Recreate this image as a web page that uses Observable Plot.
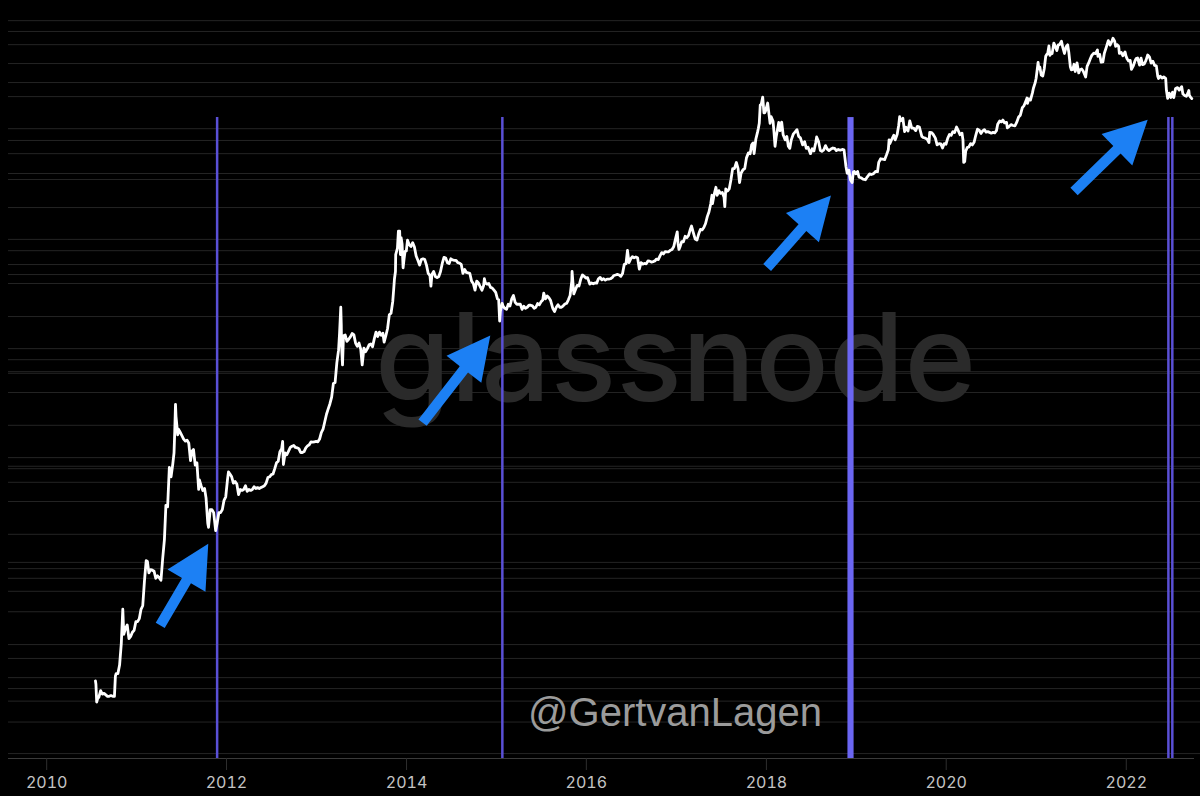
<!DOCTYPE html>
<html><head><meta charset="utf-8">
<script src="https://cdn.jsdelivr.net/npm/d3@7"></script>
<script src="https://cdn.jsdelivr.net/npm/@observablehq/plot@0.6"></script>
<style>html,body{margin:0;padding:0;background:#000;overflow:hidden}#chart{width:1200px;height:796px}</style>
</head><body><div id="chart"></div>
<script>
// ---------- data ----------
const tickYears = [2010, 2012, 2014, 2016, 2018, 2020, 2022];
const gridPrices = [98000, 78000, 59000, 39600, 26500, 19700, 10000, 7800, 5900, 3880, 3420, 1890, 965, 760, 567, 459, 380, 189, 96, 76, 59, 57, 38, 19, 9.6, 8.0, 7.6, 5.7, 3.8, 1.9, 1.05, 0.92, 0.75, 0.57, 0.37, 0.185, 0.138, 0.092, 0.073, 0.056, 0.036, 0.0185];
const signalDates = ["2011-11-24", "2015-01-25", "2022-06-21", "2022-07-07"];
const signalBand = ["2018-11-28", "2018-12-23"];
const signalTop = 12650;
const arrowTails = [["2011-04-07", 0.277], ["2014-03-07", 20.1], ["2018-01-04", 532], ["2021-06-03", 2650]];
const arrowTips  = [["2011-10-19", 1.56], ["2014-12-07", 127], ["2018-09-20", 2440], ["2022-03-29", 12100]];
const watermark = "glassnode";
const signature = "@GertvanLagen";

const btc2010 = [["07-18",0.086],["07-20",0.08],["07-23",0.055],["07-27",0.059],["08-01",0.061],["08-08",0.07],["08-15",0.065],["08-22",0.066],["08-29",0.064],["09-05",0.062],["09-12",0.062],["09-19",0.063],["09-26",0.062],["10-03",0.062],["10-07",0.095],["10-10",0.1],["10-17",0.1],["10-24",0.12],["10-31",0.19],["11-06",0.39],["11-10",0.23],["11-17",0.26],["11-24",0.28],["12-01",0.21],["12-08",0.22],["12-15",0.24],["12-22",0.25],["12-29",0.3]];
const btc2011 = [["01-05",0.30],["01-12",0.32],["01-19",0.39],["01-26",0.42],["02-02",0.71],["02-09",1.09],["02-14",1.07],["02-20",0.84],["02-27",0.90],["03-06",0.89],["03-13",0.87],["03-20",0.75],["03-27",0.79],["04-03",0.76],["04-10",0.72],["04-17",1.14],["04-24",1.7],["04-30",3.5],["05-07",3.4],["05-14",7.8],["05-21",6.4],["05-28",8.4],["06-02",10.6],["06-05",16.7],["06-08",29.6],["06-10",23],["06-13",19.5],["06-17",15.5],["06-20",17.5],["06-27",16.4],["07-04",15.3],["07-11",14.2],["07-18",13.6],["07-25",13.9],["08-01",13.0],["08-08",9.0],["08-14",11.0],["08-20",11.4],["08-27",8.2],["09-03",8.6],["09-10",4.9],["09-13",6.0],["09-20",5.3],["09-27",4.8],["10-04",5.0],["10-10",4.1],["10-17",2.4],["10-20",2.2],["10-27",3.2],["11-03",3.2],["11-10",3.0],["11-18",2.05],["11-24",2.4],["12-01",3.0],["12-08",3.0],["12-15",3.2],["12-22",3.9],["12-29",4.2]];
const btc2012 = [["01-05",6.0],["01-09",7.1],["01-15",6.8],["01-22",6.4],["01-29",5.6],["02-05",5.8],["02-12",5.5],["02-19",4.4],["02-26",4.9],["03-04",4.8],["03-11",4.9],["03-18",5.3],["03-25",4.7],["04-01",4.9],["04-08",4.8],["04-15",4.9],["04-22",5.2],["04-29",5.0],["05-06",5.1],["05-13",5.0],["05-20",5.1],["05-27",5.2],["06-03",5.3],["06-10",5.6],["06-17",6.3],["06-24",6.4],["07-01",6.7],["07-08",6.8],["07-15",7.6],["07-22",8.6],["07-29",8.9],["08-05",10.9],["08-12",11.6],["08-16",13.5],["08-19",8.3],["08-26",10.6],["09-02",10.2],["09-09",11.0],["09-16",11.9],["09-23",12.2],["09-30",12.4],["10-07",11.9],["10-14",11.8],["10-21",11.6],["10-28",10.7],["11-04",10.7],["11-11",10.9],["11-18",11.8],["11-25",12.3],["12-02",12.6],["12-09",13.4],["12-16",13.3],["12-23",13.4],["12-30",13.5]];
const btc2013 = [["01-06",13.4],["01-13",14.2],["01-20",16.3],["01-27",17.5],["02-03",20.5],["02-10",24.0],["02-17",26.9],["02-24",30.0],["03-03",34.5],["03-10",46.0],["03-17",47.0],["03-24",71],["03-31",93],["04-04",132],["04-09",230],["04-11",160],["04-12",105],["04-16",68],["04-20",126],["04-27",128],["05-04",112],["05-11",117],["05-18",123],["05-25",132],["06-01",129],["06-08",108],["06-15",101],["06-22",108],["06-29",95],["07-05",68],["07-12",97],["07-19",90],["07-26",96],["08-02",104],["08-09",106],["08-16",100],["08-23",118],["08-30",136],["09-06",124],["09-13",136],["09-20",127],["09-27",133],["10-02",110],["10-09",126],["10-16",147],["10-23",196],["10-30",203],["11-06",260],["11-10",340],["11-13",420],["11-17",490],["11-18",700],["11-21",740],["11-25",800],["11-29",1150],["12-04",1150],["12-07",700],["12-10",1000],["12-14",870],["12-18",530],["12-22",640],["12-26",750],["12-31",755]];
const btc2014 = [["01-05",950],["01-12",860],["01-19",830],["01-26",900],["02-02",820],["02-09",680],["02-16",620],["02-23",560],["03-02",630],["03-09",640],["03-16",630],["03-23",560],["03-30",470],["04-06",450],["04-10",360],["04-14",460],["04-21",490],["04-28",440],["05-05",430],["05-12",440],["05-19",490],["05-26",580],["06-02",660],["06-09",650],["06-16",590],["06-23",580],["06-30",640],["07-07",625],["07-14",620],["07-21",620],["07-28",590],["08-04",585],["08-11",570],["08-18",470],["08-25",510],["09-01",480],["09-08",475],["09-15",470],["09-22",400],["09-29",380],["10-06",330],["10-13",400],["10-20",385],["10-27",355],["11-03",330],["11-10",365],["11-13",420],["11-17",385],["11-24",375],["12-01",380],["12-08",350],["12-15",345],["12-22",330],["12-29",315]];
const btc2015 = [["01-05",275],["01-10",270],["01-14",172],["01-17",210],["01-24",250],["01-28",235],["02-04",225],["02-11",220],["02-18",245],["02-25",236],["03-04",275],["03-11",295],["03-18",255],["03-25",245],["04-01",245],["04-08",245],["04-15",220],["04-22",235],["04-29",225],["05-06",230],["05-13",240],["05-20",240],["05-27",237],["06-03",225],["06-10",230],["06-17",249],["06-24",242],["07-01",258],["07-08",268],["07-12",310],["07-19",275],["07-26",292],["08-02",281],["08-09",265],["08-18",224],["08-25",210],["09-01",230],["09-08",243],["09-15",230],["09-22",230],["09-29",237],["10-06",246],["10-13",250],["10-20",269],["10-27",295],["11-03",400],["11-04",490],["11-11",305],["11-18",335],["11-25",365],["12-02",360],["12-09",415],["12-16",455],["12-23",442],["12-30",426]];
const btc2016 = [["01-06",430],["01-15",375],["01-22",385],["01-29",378],["02-05",385],["02-12",383],["02-19",420],["02-26",432],["03-04",410],["03-11",420],["03-18",408],["03-25",417],["04-01",416],["04-08",420],["04-15",430],["04-22",450],["04-29",455],["05-06",460],["05-13",455],["05-20",442],["05-27",470],["06-03",570],["06-10",577],["06-16",765],["06-22",590],["06-29",640],["07-06",670],["07-13",655],["07-20",665],["07-27",655],["08-03",515],["08-10",590],["08-17",573],["08-24",580],["08-31",575],["09-07",612],["09-14",610],["09-21",597],["09-28",604],["10-05",612],["10-12",637],["10-19",630],["10-26",680],["11-02",730],["11-09",710],["11-16",745],["11-23",740],["11-30",742],["12-07",768],["12-14",780],["12-21",830],["12-28",975]];
const btc2017 = [["01-04",1130],["01-07",890],["01-11",780],["01-15",820],["01-22",920],["01-29",915],["02-05",1030],["02-12",1000],["02-19",1050],["02-26",1190],["03-03",1280],["03-10",1120],["03-18",970],["03-25",950],["04-01",1080],["04-08",1190],["04-15",1180],["04-22",1240],["04-29",1350],["05-06",1560],["05-13",1730],["05-20",2050],["05-25",2450],["05-27",2050],["06-03",2500],["06-10",2900],["06-15",2450],["06-22",2700],["06-29",2550],["07-06",2600],["07-13",2350],["07-16",1930],["07-20",2800],["07-27",2680],["08-03",2800],["08-10",3400],["08-17",4300],["08-24",4300],["09-01",4900],["09-08",4300],["09-14",3200],["09-20",3900],["09-28",4200],["10-05",4300],["10-12",5400],["10-20",6000],["10-27",5900],["11-02",7100],["11-08",7400],["11-12",5900],["11-19",8000],["11-26",9300],["11-29",10000],["12-03",11200],["12-07",16500],["12-11",16700],["12-17",19500],["12-22",14000],["12-25",14000],["12-28",14400]];
const btc2018 = [["01-06",17200],["01-10",14500],["01-16",11200],["01-20",12900],["01-28",11700],["02-01",9200],["02-05",6900],["02-10",8500],["02-20",11400],["02-25",9600],["03-04",11500],["03-10",8800],["03-18",7900],["03-25",8500],["03-31",6900],["04-06",6600],["04-12",7900],["04-20",8900],["04-27",9300],["05-05",9800],["05-12",8500],["05-19",8250],["05-28",7100],["06-05",7600],["06-12",6600],["06-19",6750],["06-29",5900],["07-06",6550],["07-13",6250],["07-20",7400],["07-24",8400],["08-01",7600],["08-08",6300],["08-14",6200],["08-22",6400],["08-29",7000],["09-05",6500],["09-12",6300],["09-20",6500],["09-28",6650],["10-05",6600],["10-12",6300],["10-20",6450],["10-28",6350],["11-05",6450],["11-12",6400],["11-15",5600],["11-20",4500],["11-25",3900],["12-02",4150],["12-08",3400],["12-15",3200],["12-20",4000],["12-24",4050],["12-30",3850]];
const btc2019 = [["01-06",4050],["01-12",3600],["01-20",3550],["01-28",3450],["02-07",3400],["02-14",3600],["02-24",3850],["03-03",3800],["03-12",3870],["03-20",4050],["03-28",4030],["04-02",4900],["04-10",5300],["04-18",5250],["04-26",5200],["05-03",5700],["05-11",6400],["05-14",7900],["05-17",7300],["05-25",8000],["06-02",8700],["06-08",7900],["06-16",8900],["06-22",10700],["06-26",12900],["06-29",11800],["07-03",11900],["07-09",12500],["07-16",9400],["07-22",10300],["07-30",9500],["08-06",11800],["08-14",10100],["08-22",10100],["08-30",9600],["09-06",10500],["09-14",10350],["09-24",8500],["09-30",8300],["10-08",8200],["10-16",8000],["10-23",7450],["10-26",9250],["11-03",9200],["11-10",8800],["11-18",8200],["11-25",7100],["12-03",7300],["12-10",7250],["12-17",6650],["12-24",7300],["12-31",7200]];
const btc2020 = [["01-07",8150],["01-14",8850],["01-21",8700],["01-28",9400],["02-04",9200],["02-12",10350],["02-19",9600],["02-26",8800],["03-05",9100],["03-09",7900],["03-12",4900],["03-16",5000],["03-20",6200],["03-26",6700],["04-02",6800],["04-09",7300],["04-16",7100],["04-23",7500],["04-30",8700],["05-07",9900],["05-14",9700],["05-21",9050],["05-28",9550],["06-04",9800],["06-11",9300],["06-18",9400],["06-25",9250],["07-02",9100],["07-09",9250],["07-16",9150],["07-23",9600],["07-28",11000],["08-05",11750],["08-12",11550],["08-18",12000],["08-25",11300],["09-02",11400],["09-05",10200],["09-12",10450],["09-20",10900],["09-28",10700],["10-06",10600],["10-13",11400],["10-21",12800],["10-28",13300],["11-05",15600],["11-12",16300],["11-19",17800],["11-24",19100],["11-26",17100],["12-01",18800],["12-08",18300],["12-16",21300],["12-20",23500],["12-27",26300],["12-31",29000]];
const btc2021 = [["01-03",32800],["01-08",40500],["01-11",35500],["01-15",36800],["01-21",31000],["01-27",30400],["02-02",35500],["02-08",46200],["02-12",47900],["02-16",49000],["02-21",57500],["02-25",47000],["03-01",49600],["03-06",48900],["03-13",61000],["03-18",57600],["03-25",52000],["03-31",58800],["04-05",59000],["04-13",63500],["04-18",56000],["04-25",49000],["05-02",56600],["05-08",58800],["05-13",49700],["05-19",37000],["05-23",34700],["05-29",35000],["06-03",39000],["06-08",33500],["06-15",40200],["06-22",32500],["06-27",34700],["07-04",35300],["07-10",33800],["07-20",29800],["07-26",37300],["08-01",39900],["08-08",43800],["08-14",47000],["08-22",49300],["08-29",48900],["09-06",52700],["09-08",46000],["09-15",48000],["09-21",40700],["09-28",41000],["10-04",49200],["10-12",56000],["10-20",64300],["10-27",58500],["11-03",62900],["11-08",67500],["11-15",63500],["11-19",56900],["11-25",59000],["12-01",57200],["12-04",49000],["12-12",50000],["12-18",46700],["12-27",50700],["12-31",46300]];
const btc2022 = [["01-05",43500],["01-10",41800],["01-17",42300],["01-22",35000],["01-30",38000],["02-05",41600],["02-10",44000],["02-16",44500],["02-24",38300],["03-02",44400],["03-08",38700],["03-15",39300],["03-22",42400],["03-29",47400],["04-05",45500],["04-12",40000],["04-19",41500],["04-26",38100],["05-03",37700],["05-09",30100],["05-12",28900],["05-19",30300],["05-26",29200],["06-02",29900],["06-10",29000],["06-13",22500],["06-18",19000],["06-24",21200],["07-01",19300],["07-08",21600],["07-13",19300],["07-20",23400],["07-28",23800],["08-04",22600],["08-14",24300],["08-19",20800],["08-26",20200],["09-02",19800],["09-09",21400],["09-12",22400],["09-14",20200],["09-19",19500],["09-24",18900]];

// ---------- build ----------
const years = {2010: btc2010, 2011: btc2011, 2012: btc2012, 2013: btc2013, 2014: btc2014, 2015: btc2015, 2016: btc2016, 2017: btc2017, 2018: btc2018, 2019: btc2019, 2020: btc2020, 2021: btc2021, 2022: btc2022};
const series = [];
for (const [yr, arr] of Object.entries(years)) for (const [md, p] of arr) series.push({date: new Date(`${yr}-${md}`), price: p});

const W = 1200, H = 796, mL = 8, mR = 6, mT = 0, mB = 38;
const xDomain = [new Date("2009-07-30"), new Date("2022-10-05")];
const yDomain = [0.01667, 150000];

const xs = Plot.scale({x: {type: "utc", domain: xDomain, range: [mL, W - mR]}});
const ys = Plot.scale({y: {type: "log", domain: yDomain, range: [H - mB, mT]}});

const arrows = arrowTails.map((t, i) => {
  const tail = {date: new Date(t[0]), price: t[1]};
  const tip = {date: new Date(arrowTips[i][0]), price: arrowTips[i][1]};
  const x1 = xs.apply(tail.date), y1 = ys.apply(tail.price);
  const x2 = xs.apply(tip.date), y2 = ys.apply(tip.price);
  return {...tail, angle: Math.atan2(x2 - x1, -(y2 - y1)) * 180 / Math.PI, len: Math.hypot(x2 - x1, y2 - y1)};
});

const arrowShape = {
  draw(ctx, l) {
    const head = 43, half = 22, shaft = 5.2;
    ctx.moveTo(-shaft, 0);
    ctx.lineTo(-shaft, -(l - head));
    ctx.lineTo(-half, -(l - head));
    ctx.lineTo(0, -l);
    ctx.lineTo(half, -(l - head));
    ctx.lineTo(shaft, -(l - head));
    ctx.lineTo(shaft, 0);
    ctx.closePath();
  }
};

const chart = Plot.plot({
  width: W, height: H,
  marginLeft: mL, marginRight: mR, marginTop: mT, marginBottom: mB,
  style: {background: "#000", color: "#bdbdbd", fontFamily: "Inter, Roboto, sans-serif", overflow: "visible"},
  x: {type: "utc", domain: xDomain},
  y: {type: "log", domain: yDomain, axis: null},
  marks: [
    Plot.ruleY(gridPrices, {stroke: "#242424", strokeWidth: 1, insetRight: -6}),
    Plot.ruleY([yDomain[0]], {stroke: "#3a3a3a", strokeWidth: 1}),
    Plot.text([watermark], {frameAnchor: "top-left", dx: 667, dy: 400, text: d => d, textAnchor: "middle", lineAnchor: "bottom", fontSize: 122, fontFamily: "Inter", fontWeight: 500, fill: "#2a2a2a"}),
    Plot.ruleX(signalDates.map(d => new Date(d)), {y1: yDomain[0], y2: signalTop, stroke: "#5a50d6", strokeWidth: 2.5}),
    Plot.rect([signalBand], {x1: d => new Date(d[0]), x2: d => new Date(d[1]), y1: yDomain[0], y2: signalTop, fill: "#6b66f2"}),
    Plot.line(series, {x: "date", y: "price", stroke: "#ffffff", strokeWidth: 2.8, strokeLinejoin: "round"}),
    ...arrows.map(a => Plot.vector([a], {x: "date", y: "price", anchor: "start", rotate: a.angle, length: a.len, shape: arrowShape, fill: "#1c80f4", stroke: "none"})),
    Plot.text([signature], {frameAnchor: "top-left", dx: 666.5, dy: 725, text: d => d, textAnchor: "middle", lineAnchor: "bottom", fontSize: 40, fontFamily: "Liberation Sans, Arial, sans-serif", fill: "#9b9b9b"}),
    Plot.axisX({ticks: tickYears.map(y => new Date(`${y}-01-01`)), tickFormat: "%Y", tickSize: 12, tickPadding: 6, fontSize: 16, stroke: "#2e2e2e", fill: "#c4c4c4", label: null})
  ]
});
document.getElementById("chart").appendChild(chart);
</script></body></html>
